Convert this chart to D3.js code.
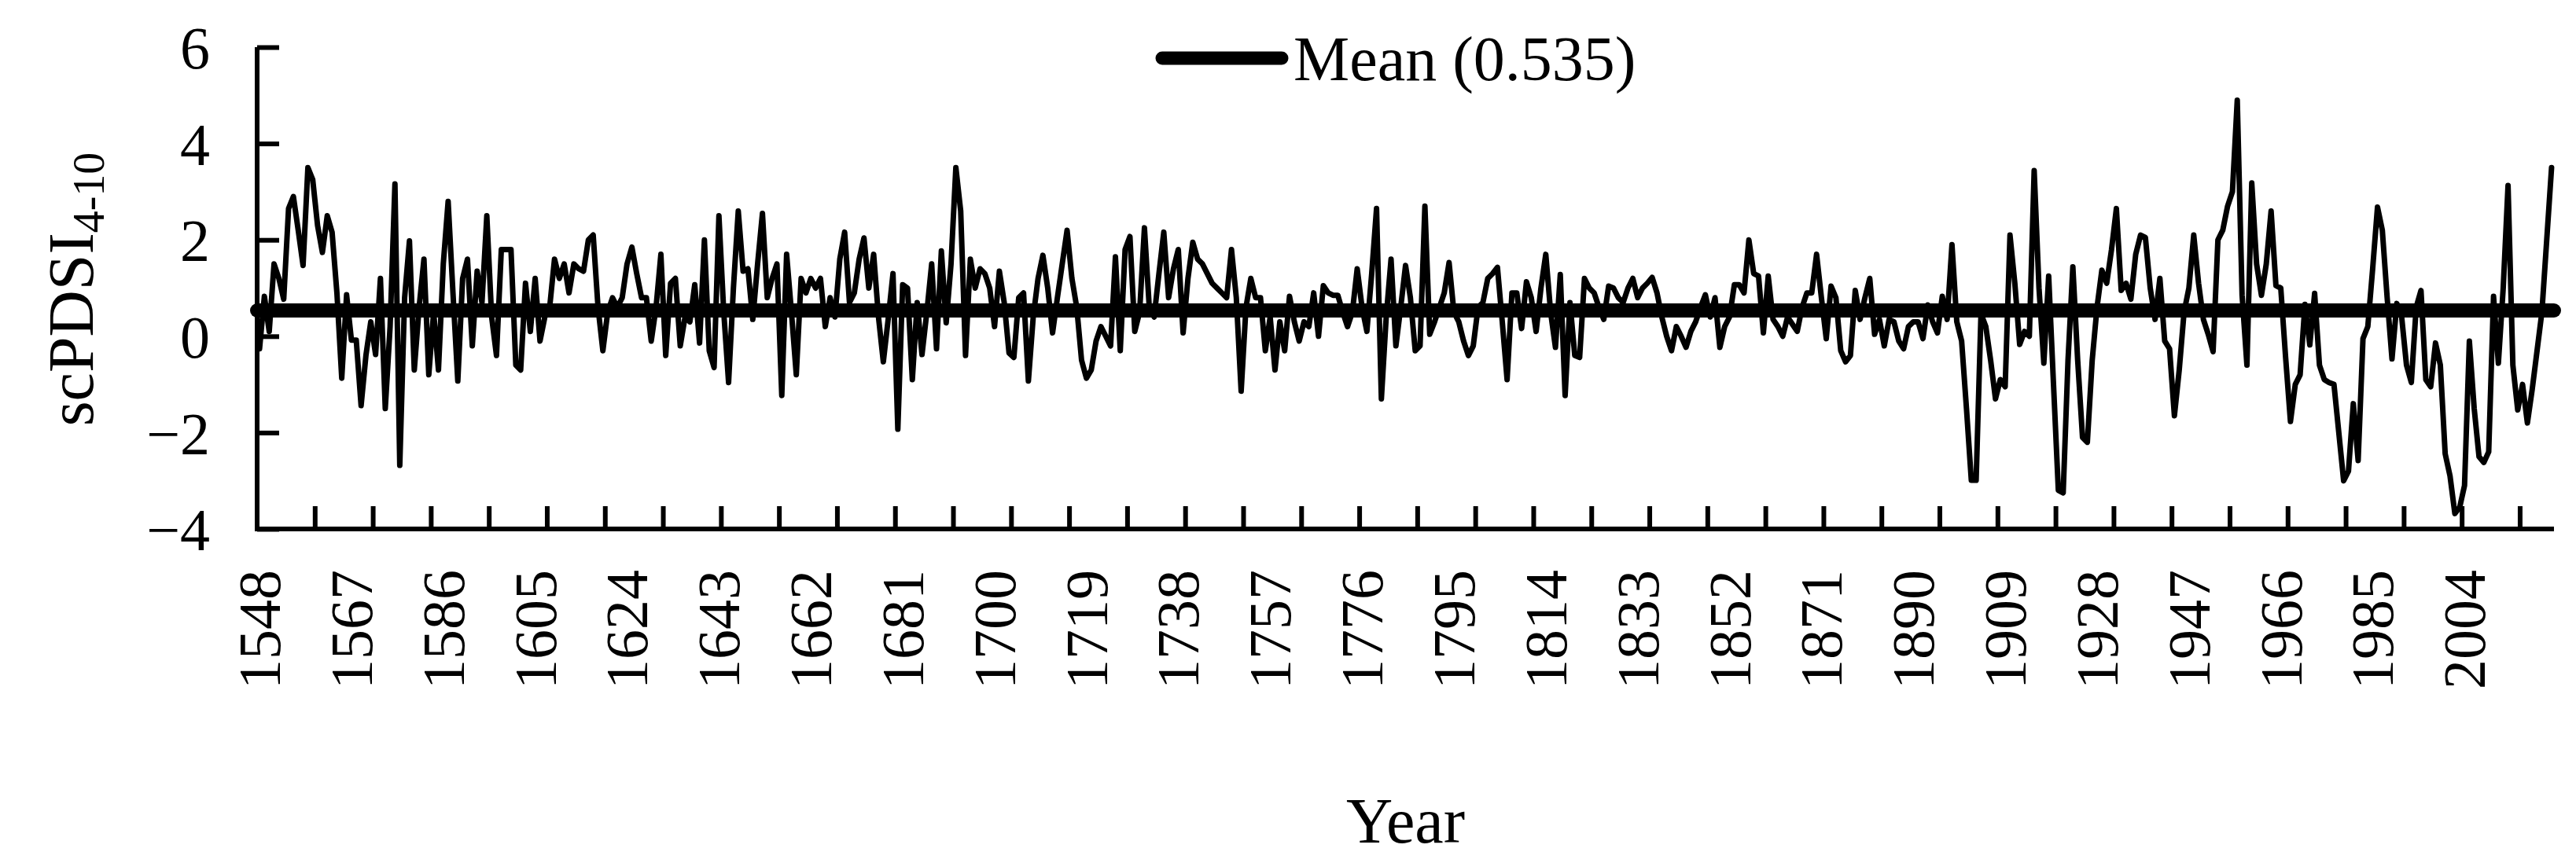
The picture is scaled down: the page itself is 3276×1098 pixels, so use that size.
<!DOCTYPE html>
<html><head><meta charset="utf-8">
<script src="https://cdn.jsdelivr.net/npm/d3@7/dist/d3.min.js"></script>
<style>body{margin:0;background:#fff}svg{display:block}text{font-family:"Liberation Serif","DejaVu Serif",serif;fill:#000}</style>
</head><body><svg id="c" width="3276" height="1098"></svg>
<script>
const startYear = 1548;
const meanValue = 0.535;
const yTicks = [-4, -2, 0, 2, 4, 6];
const labelEvery = 19;
const tickEvery = 12;
const s1548 = [-0.26,0.83,0.1,1.5,1.2,0.77,2.65,2.9,2.2,1.47,3.5,3.25,2.3,1.74,2.5,2.16,0.9,-0.87,0.86,-0.08,-0.08,-1.44,-0.4,0.3,-0.38,1.2,-1.5,0.2,3.16,-2.68];
const s1578 = [0.8,1.98,-0.7,0.6,1.6,-0.8,0.5,-0.7,1.5,2.8,0.9,-0.93,1.2,1.6,-0.2,1.35,0.7,2.5,0.4,-0.4,1.8,1.8,1.8,-0.6,-0.7,1.1,0.1,1.2,-0.1,0.4];
const s1608 = [0.6,1.6,1.2,1.5,0.9,1.5,1.4,1.35,2.0,2.1,0.6,-0.3,0.5,0.8,0.6,0.8,1.5,1.85,1.3,0.8,0.8,-0.1,0.6,1.7,-0.4,1.1,1.2,-0.2,0.4];
const s1637 = [0.3,1.07,-0.14,2.0,-0.3,-0.65,2.5,0.5,-0.96,1.0,2.6,1.35,1.4,0.35,1.5,2.55,0.8,1.2,1.5,-1.23,1.7,0.5,-0.8,1.2,0.9,1.2,1.0,1.2,0.2,0.8];
const s1667 = [0.4,1.6,2.16,0.7,0.9,1.6,2.04,1.0,1.7,0.4,-0.53,0.35,1.3,-1.93,1.07,1.0,-0.9,0.7,-0.38,0.5,1.5,-0.26,1.77,0.28,1.5,3.5,2.6,-0.4,1.6,1.0];
const s1697 = [1.4,1.3,1.0,0.2,1.35,0.7,-0.35,-0.44,0.8,0.9,-0.93,0.4,1.2,1.68,1.0,0.07,0.8,1.5,2.2,1.2,0.6,-0.5,-0.87,-0.7,-0.1,0.2,0.0,-0.2,1.65,-0.3,1.8,2.07,0.1,0.5,2.25,0.6,0.4,1.3,2.16,0.8,1.4,1.8,0.07,1.2,1.95,1.6,1.5,1.3,1.1,1.0,0.9,0.8,1.8,0.8,-1.14,0.6,1.2,0.8,0.8,-0.3];
const s1757 = [0.4,-0.7,0.3,-0.3,0.83,0.3,-0.1,0.3,0.2,0.9,0.0,1.05,0.9,0.85,0.85,0.5,0.2,0.5,1.4,0.6,0.1,1.3,2.65,-1.3,0.4,1.6,-0.2,0.6,1.47,0.8,-0.3];
const s1788 = [-0.2,2.7,0.04,0.3,0.6,0.9,1.53,0.5,0.3,-0.1,-0.4,-0.2,0.6,0.7,1.2,1.3,1.43,0.3,-0.9,0.9,0.9,0.16,1.13,0.8,0.1,1.0,1.7,0.5,-0.23,1.28,-1.23,0.7,-0.4];
const s1821 = [-0.44,1.2,1.0,0.9,0.6,0.35,1.04,1.0,0.8,0.7,1.0,1.2,0.8,1.0,1.1,1.22,0.9,0.4,0.0,-0.3,0.2,0.0,-0.23,0.1,0.3,0.6,0.86,0.4,0.8,-0.23,0.2,0.4,1.07];
const s1854 = [1.07,0.9,2.0,1.3,1.25,0.07,1.25,0.35,0.2,0.0,0.4,0.25,0.1,0.6,0.9,0.9,1.7,0.8,-0.05,1.04,0.8,-0.3,-0.53,-0.4,0.95,0.35,0.8,1.2,0.04,0.35,-0.2,0.35,0.3];
const s1887 = [-0.1,-0.26,0.2,0.3,0.3,-0.05,0.65,0.3,0.07,0.83,0.35,1.9,0.3,-0.1,-1.5,-2.99,-2.99,0.47,0.2,-0.5,-1.3,-0.9,-1.05,2.1,1.1,-0.17,0.1,0.0,3.44,1.0,-0.56,1.25,-1.0];
const s1920 = [-3.2,-3.25,-0.5,1.44,-0.5,-2.1,-2.2,-0.5,0.6,1.37,1.1,1.8,2.65,0.95,1.1,0.77,1.7,2.1,2.05,1.0,0.35,1.2,-0.1,-0.26,-1.65,-0.7,0.5,1.0,2.1,1.1,0.35,0.04,-0.32];
const s1953 = [2.0,2.2,2.7,3.0,4.9,0.85,-0.6,3.18,1.5,0.85,1.5,2.6,1.05,1.0,-0.44,-1.77,-1.0,-0.8,0.66,-0.18,0.89,-0.6,-0.9,-0.96,-1.0,-2.0,-3.0,-2.8,-1.4,-2.58,-0.05];
const s1984 = [0.2,1.4,2.68,2.2,0.8,-0.47,0.68,0.4,-0.6,-0.96,0.6,0.95,-0.9,-1.05,-0.14,-0.6,-2.44,-2.9,-3.68,-3.55,-3.1,-0.1,-1.5,-2.5,-2.62,-2.4,0.83,-0.56,1.0,3.13,-0.6,-1.53,-1.0,-1.8,-1.1,-0.3,0.5,2.0,3.5];

const values = [].concat(s1548,s1578,s1608,s1637,s1667,s1697,s1757,s1788,s1821,s1854,s1887,s1920,s1953,s1984);
const years = values.map((v,i)=>startYear+i);

const svg = d3.select("#c");
const L=327, R=3248, T=60, B=673;
const x = d3.scaleBand().domain(years).range([L,R]);
const cx = yr => x(yr) + x.bandwidth()/2;
const y = d3.scaleLinear().domain([-4,6]).range([B,T]);

// data line
svg.append("path").datum(values)
  .attr("d", d3.line().x((d,i)=>cx(years[i])).y(d=>y(d)))
  .attr("fill","none").attr("stroke","#000").attr("stroke-width",7).attr("stroke-linejoin","round").attr("stroke-linecap","round");
// mean line
svg.append("line").attr("x1",L).attr("x2",R).attr("y1",y(meanValue)).attr("y2",y(meanValue))
  .attr("stroke","#000").attr("stroke-width",18).attr("stroke-linecap","round");

// y axis
const ya = svg.append("g").attr("transform",`translate(${L},0)`)
  .call(d3.axisLeft(y).tickValues(yTicks).tickSize(-28).tickPadding(60).tickFormat(d=>d<0?"\u2212"+Math.abs(d):d));
ya.select(".domain").attr("stroke-width",6).attr("d",`M0,${T}V${B}`);
ya.selectAll(".tick line").attr("stroke-width",6);
ya.selectAll(".tick text").attr("font-size",76).attr("dy","0.35em").style("font-family","Liberation Serif");

// x axis
const xa = svg.append("g").attr("transform",`translate(0,${B})`);
xa.append("line").attr("x1",L-3).attr("x2",R).attr("y1",0).attr("y2",0).attr("stroke","#000").attr("stroke-width",6);
const nTicks = Math.floor(years.length/tickEvery);
const tickIdx = d3.range(1,nTicks+1).map(i=>i*tickEvery);
xa.selectAll("line.tk").data(tickIdx).join("line").attr("class","tk")
  .attr("x1",i=>x(years[i])).attr("x2",i=>x(years[i])).attr("y1",0).attr("y2",-29)
  .attr("stroke","#000").attr("stroke-width",6);
const labYears = years.filter((yr,i)=>i%labelEvery===0 && i+labelEvery<=years.length);
xa.selectAll("text").data(labYears).join("text")
  .attr("transform",d=>`translate(${cx(d)+26},${52}) rotate(-90)`)
  .attr("text-anchor","end").attr("font-size",76).text(d=>d);

// titles
svg.append("text").attr("x",(L+R)/2).attr("y",1072).attr("text-anchor","middle").attr("font-size",82).text("Year");
const yt = svg.append("text").attr("transform","translate(118,368) rotate(-90)").attr("text-anchor","middle").attr("font-size",82);
yt.append("tspan").text("scPDSI");
yt.append("tspan").attr("font-size",56).attr("dy",14).text("4-10");

// legend
svg.append("line").attr("x1",1478).attr("x2",1630).attr("y1",74).attr("y2",74).attr("stroke","#000").attr("stroke-width",17).attr("stroke-linecap","round");
svg.append("text").attr("x",1645).attr("y",102).attr("font-size",80).text(`Mean (${meanValue})`);
</script></body></html>
